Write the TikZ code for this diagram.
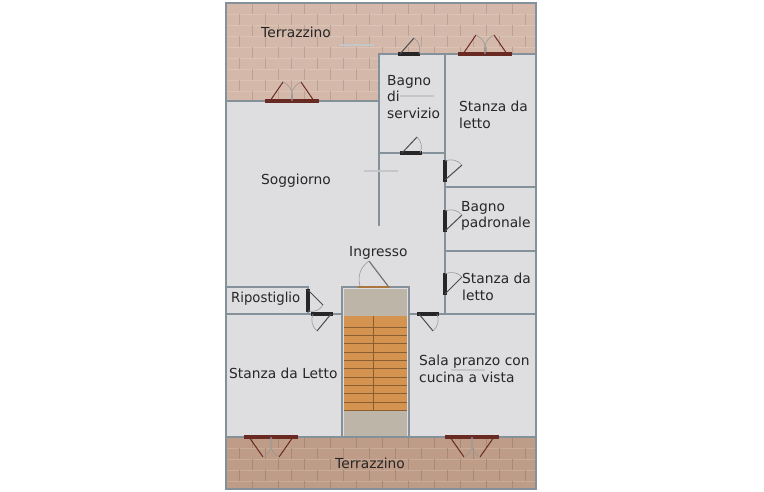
\documentclass[tikz,border=0pt]{standalone}
\usepackage{fontspec}
\setmainfont{DejaVu Sans}
\usepackage{tikz}
\definecolor{wallgrey}{HTML}{84909A}
\definecolor{floorgrey}{HTML}{DEDEE1}
\definecolor{brickup}{HTML}{D4B8A9}
\definecolor{brickdown}{HTML}{BE9C87}
\definecolor{stairwood}{HTML}{D49450}
\definecolor{stairline}{HTML}{8A5E30}
\definecolor{stonefloor}{HTML}{BDB6A8}
\definecolor{doorred}{HTML}{6A2A24}
\definecolor{smudge}{HTML}{C4C6CA}
\tikzset{
  roomlabel/.style={anchor=west, align=left, font=\fontsize{13.8}{16.5}\selectfont, inner sep=0pt, text=black!85},
  wall/.style={draw=wallgrey, line width=2.6pt},
  doorbar/.style={draw=black!85, line width=3.2pt},
  doubledoorbar/.style={draw=doorred, line width=3.2pt},
  doorleaf/.style={draw=black!70, line width=1pt},
  redleaf/.style={draw=doorred, line width=1pt},
  doorswing/.style={draw=gray!80, line width=0.6pt},
}
% single door: bar ends, hinge, leaf end, swing end, bend
\newcommand{\plandoor}[6]{
  \draw[doorbar] #1 -- #2;
  \draw[doorleaf] #3 -- #4;
  \draw[doorswing] #4 to[#6=35] #5;
}
\begin{document}
\begin{tikzpicture}[x=1pt, y=-1pt]
  \useasboundingbox (0,0) rectangle (764,492);
  % floors
  \fill[floorgrey] (226,3) rectangle (536,489);
  \fill[brickup] (226,3) -- (536,3) -- (536,54) -- (379,54) -- (379,101) -- (226,101) -- cycle;
  \fill[brickdown] (226,437) rectangle (536,489);
  % bricks
  \begin{scope}
    \clip (226,3) -- (536,3) -- (536,54) -- (379,54) -- (379,101) -- (226,101) -- cycle;
    \foreach \y in {0,...,9} {
      \draw[brickup!85!white, line width=0.7pt] (226,3+\y*11) -- (536,3+\y*11);
      \pgfmathsetmacro{\shift}{mod(\y,2)*13}
      \foreach \x in {0,...,12}
        \draw[brickup!88!black, line width=0.6pt] (226+\shift+\x*26,3+\y*11) -- ++(0,11);
    }
  \end{scope}
  \begin{scope}
    \clip (226,437) rectangle (536,489);
    \foreach \y in {0,...,4} {
      \draw[brickdown!85!white, line width=0.7pt] (226,437+\y*11) -- (536,437+\y*11);
      \pgfmathsetmacro{\shift}{mod(\y,2)*13}
      \foreach \x in {0,...,12}
        \draw[brickdown!88!black, line width=0.6pt] (226+\shift+\x*26,437+\y*11) -- ++(0,11);
    }
  \end{scope}
  % stairs
  \fill[stonefloor] (344,289) rectangle (407,316);
  \fill[stonefloor] (344,410) rectangle (407,436);
  \fill[stairwood] (344,316) rectangle (407,410);
  \foreach \y in {0,...,9}
    \draw[stairline, line width=0.6pt] (344,327+\y*8.33) -- (407,327+\y*8.33);
  \draw[stairline, line width=0.6pt] (373,316) -- (373,410);
  \draw[stairline, line width=1pt] (344,410) -- (407,410);
  % walls
  \draw[wall] (226,3) rectangle (536,489);
  \draw[wall] (226,101) -- (379,101);
  \draw[wall] (379,226) -- (379,54) -- (536,54);
  \draw[wall] (379,153) -- (445,153);
  \draw[wall] (445,54) -- (445,314);
  \draw[wall] (445,187) -- (536,187);
  \draw[wall] (445,251) -- (536,251);
  \draw[wall] (226,314) -- (342,314);
  \draw[wall] (409,314) -- (536,314);
  \draw[wall] (226,287) -- (308,287) -- (308,314);
  \draw[wall] (342,437) -- (342,287) -- (409,287) -- (409,437);
  \draw[wall] (226,437) -- (536,437);
  % marks
  \foreach \x/\y in {357/45,417/96,381/171,468/370}
    \draw[smudge, line width=1.6pt] (\x-17,\y) -- (\x+17,\y);
  % double doors
  \foreach \x/\y in {292/101,485/54} {
    \draw[doubledoorbar] (\x-27,\y) -- (\x+27,\y);
    \draw[redleaf] (\x-22,\y) -- (\x-9,\y-19);
    \draw[redleaf] (\x+22,\y) -- (\x+9,\y-19);
    \draw[doorswing] (\x-9,\y-19) to[bend left=40] (\x,\y);
    \draw[doorswing] (\x+9,\y-19) to[bend right=40] (\x,\y);
  }
  \foreach \x/\y in {271/437,472/437} {
    \draw[doubledoorbar] (\x-27,\y) -- (\x+27,\y);
    \draw[redleaf] (\x-22,\y) -- (\x-8,\y+20);
    \draw[redleaf] (\x+22,\y) -- (\x+8,\y+20);
    \draw[doorswing] (\x-8,\y+20) to[bend right=40] (\x,\y);
    \draw[doorswing] (\x+8,\y+20) to[bend left=40] (\x,\y);
  }
  % single doors
  \plandoor{(398,54)}{(420,54)}{(400,54)}{(414,38)}{(419,54)}{bend left}
  \plandoor{(400,153)}{(422,153)}{(402,153)}{(417,137)}{(420,153)}{bend left}
  \plandoor{(445,160)}{(445,182)}{(445,180)}{(462,165)}{(445,161)}{bend right}
  \plandoor{(445,210)}{(445,232)}{(445,231)}{(462,215)}{(445,211)}{bend right}
  \plandoor{(445,273)}{(445,295)}{(445,294)}{(462,277)}{(445,274)}{bend right}
  \plandoor{(308,289)}{(308,312)}{(308,290)}{(323,305)}{(308,311)}{bend left}
  \plandoor{(311,314)}{(333,314)}{(331,314)}{(317,331)}{(313,314)}{bend left}
  \plandoor{(417,314)}{(439,314)}{(419,314)}{(433,331)}{(437,314)}{bend right}
  % entrance door
  \draw[draw=stairwood!80!black, line width=2.6pt] (358,287) -- (390,287);
  \draw[draw=black!55, line width=1.2pt] (388,286) -- (369,261);
  \draw[doorswing] (369,261) to[bend right=35] (360,286);
  % labels
  \node[roomlabel] (terrace1) at (261,32) {Terrazzino};
  \node[roomlabel] (bagno1) at (387,97) {Bagno\\di\\servizio};
  \node[roomlabel] (stanza1) at (459,115) {Stanza da\\letto};
  \node[roomlabel] (soggiorno) at (261,181) {Soggiorno};
  \node[roomlabel] (bagno2) at (461,216) {Bagno\\padronale};
  \node[roomlabel] (ingresso) at (349,253) {Ingresso};
  \node[roomlabel] (stanza2) at (462,287) {Stanza da\\letto};
  \node[roomlabel, xscale=0.96] (ripostiglio) at (231,299) {Ripostiglio};
  \node[roomlabel] (stanza3) at (229,373) {Stanza da Letto};
  \node[roomlabel] (sala) at (419,369) {Sala pranzo con\\cucina a vista};
  \node[roomlabel] (terrace2) at (335,463) {Terrazzino};
\end{tikzpicture}
\end{document}
